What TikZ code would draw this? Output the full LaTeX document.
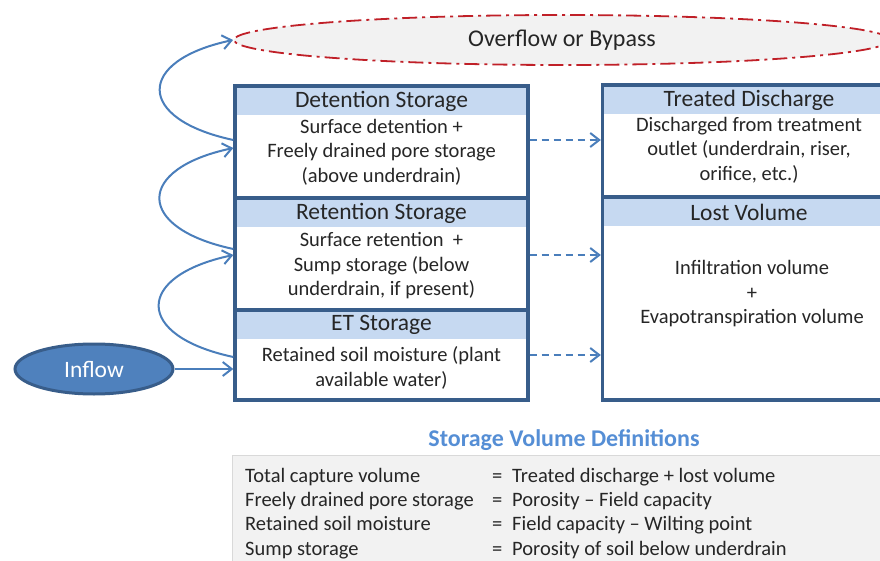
\documentclass[tikz,border=0pt]{standalone}
\usepackage{fontspec}
\setmainfont{Carlito}
\usetikzlibrary{positioning}
\usetikzlibrary{shapes.geometric,arrows.meta}

\definecolor{boxblue}{RGB}{56,93,138}
\definecolor{hdrblue}{RGB}{198,217,241}
\definecolor{flowblue}{RGB}{74,126,187}
\definecolor{inblue}{RGB}{79,129,189}
\definecolor{ovred}{RGB}{192,32,40}
\definecolor{ovgray}{RGB}{242,242,242}
\definecolor{defgray}{RGB}{242,242,242}
\definecolor{defline}{RGB}{217,217,217}
\definecolor{deftitle}{RGB}{85,142,213}
\definecolor{ink}{RGB}{38,38,38}

\begin{document}
\begin{tikzpicture}[x=1pt,y=-1pt,
		>={Straight Barb[length=9pt,width=14pt]},
		store/.style={draw=boxblue,line width=3.3pt,fill=white,minimum width=293pt,inner sep=0pt},
		head/.style={fill=hdrblue,minimum width=289.7pt,minimum height=27pt,inner sep=0pt,anchor=north,text=ink,font=\fontsize{23.5}{26}\selectfont},
		body/.style={align=center,text=ink,font=\fontsize{20.5}{24.5}\selectfont},
		flow/.style={->,draw=flowblue,line width=2pt},
		drain/.style={flow,dash pattern=on 7pt off 5pt},
		loopflow/.style={flow,out=168,in=192,looseness=2.55},
		defrow/.style={anchor=base west,inner sep=0pt,text=ink,font=\fontsize{20.5}{24}\selectfont}]
		\useasboundingbox (0,0) rectangle (880,561);
		\clip (0,0) rectangle (880,561);
		
		% overflow and inflow
		\node[ellipse,draw=ovred,fill=ovgray,line width=1.8pt,dash pattern=on 15pt off 5pt on 3pt off 5pt,
		      minimum width=656pt,minimum height=50pt,inner sep=0pt,text=ink,font=\fontsize{24}{28}\selectfont] (over) at (562,40) {Overflow or Bypass};
		\node[ellipse,draw=boxblue,fill=inblue,line width=3pt,minimum width=158pt,minimum height=50pt,
		      inner sep=0pt,text=white,font=\fontsize{23.5}{26}\selectfont] (in) at (94,369) {Inflow};
		
		% storage boxes
		\node[store,minimum height=112pt] (det) at (381.5,142) {};
		\node[store,minimum height=112pt] (ret) at (381.5,254) {};
		\node[store,minimum height=90pt] (et) at (381.5,355) {};
		\node[store,minimum height=112pt] (treat) at (749,141) {};
		\node[store,minimum height=203pt] (lost) at (749,298.5) {};
		
		\node[head] (det-h) at ([yshift=-3.3pt]det.north) {Detention Storage};
		\node[head] (ret-h) at ([yshift=-3.3pt]ret.north) {Retention Storage};
		\node[head] (et-h) at ([yshift=-3.3pt]et.north) {ET Storage};
		\node[head] (treat-h) at ([yshift=-3.3pt]treat.north) {Treated Discharge};
		\node[head] (lost-h) at ([yshift=-3.3pt]lost.north) {Lost Volume};
		
		\node[body] (det-b) at (381.5,152) {Surface detention +\\Freely drained pore storage\\(above underdrain)};
		\node[body] (ret-b) at (381.5,266) {Surface retention~~+\\Sump storage (below\\underdrain, if present)};
		\node[body] (et-b) at (381.5,368) {Retained soil moisture (plant\\available water)};
		\node[body] (treat-b) at (749,150) {Discharged from treatment\\outlet (underdrain, riser,\\orifice, etc.)};
		\node[body] (lost-b) at (752,294) {Infiltration volume\\+\\Evapotranspiration volume};
		
		% flows
		\draw[loopflow] ([yshift=2pt]det.west) to (over.west);
		\draw[loopflow] ([yshift=5pt]ret.west) to ([yshift=-6pt]det.west);
		\draw[loopflow] ([yshift=-2pt]et.west) to ([yshift=-1pt]ret.west);
		\draw[flow] (in.east) -- (in.east -| et.west);
		
		\draw[drain] ([yshift=2pt]det.east) -- ([yshift=2pt]det.east -| treat.west);
		\draw[drain] ([yshift=-1pt]ret.east) -- ([yshift=-1pt]ret.east -| lost.west);
		\draw[drain] (et.east) -- (et.east -| lost.west);
		
		% definitions
		\node[text=deftitle,font=\bfseries\fontsize{24}{28}\selectfont] (def-t) at (564,440) {Storage Volume Definitions};
		\node[draw=defline,fill=defgray,line width=1pt,minimum width=670pt,minimum height=120pt,inner sep=0pt,anchor=north west] (defs) at (232,455) {};
		
		\node[defrow] (d1) at (245,482) {Total capture volume};
		\node[defrow] (d2) at (245,506) {Freely drained pore storage};
		\node[defrow] (d3) at (245,530.5) {Retained soil moisture};
		\node[defrow] (d4) at (245,555) {Sump storage};
		\node[defrow] (e1) at (492,482) {=};
		\node[defrow] (e2) at (492,506) {=};
		\node[defrow] (e3) at (492,530.5) {=};
		\node[defrow] (e4) at (492,555) {=};
		\node[defrow] (v1) at (512,482) {Treated discharge + lost volume};
		\node[defrow] (v2) at (512,506) {Porosity – Field capacity};
		\node[defrow] (v3) at (512,530.5) {Field capacity – Wilting point};
		\node[defrow] (v4) at (512,555) {Porosity of soil below underdrain};
\end{tikzpicture}
\end{document}
